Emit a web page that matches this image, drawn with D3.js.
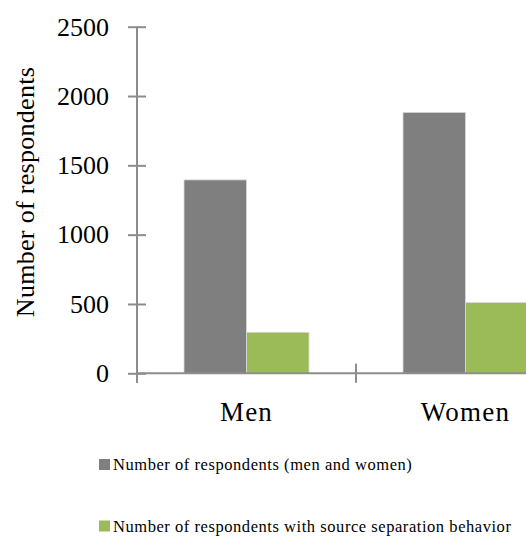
<!DOCTYPE html>
<html>
<head>
<meta charset="utf-8">
<script src="https://cdn.jsdelivr.net/npm/d3@7"></script>
<style>
  html, body { margin: 0; padding: 0; background: #fff; }
  svg { display: block; }
  text { font-family: "Liberation Serif", "Times New Roman", serif; fill: #000; }
</style>
</head>
<body>
<script>
// ---- data ----
const categories = ["Men", "Women"];
const seriesNames = ["Number of respondents (men and women)", "Number of respondents with source separation behavior"];
const seriesColors = ["#7f7f7f", "#9bbb59"];
const totalRespondents = [1395, 1882];
const separationRespondents = [296, 510];
const yTicks = [0, 500, 1000, 1500, 2000, 2500];

const W = 526, H = 536;
const axisX = 137, plotTop = 26.7, plotBottom = 373.3, plotRight = 575;

const svg = d3.select("body").append("svg").attr("width", W).attr("height", H);

const y = d3.scaleLinear().domain([0, 2500]).range([plotBottom, plotTop]);
const x0 = d3.scaleBand().domain(categories).range([axisX, plotRight]).paddingInner(0).paddingOuter(0);
const x1 = d3.scaleBand().domain([0, 1]).range([0, x0.bandwidth()]).paddingInner(0).paddingOuter(0.752);

const rows = categories.map((c, i) => ({ cat: c, vals: [totalRespondents[i], separationRespondents[i]] }));

// bars
const g = svg.append("g");
rows.forEach(r => {
  r.vals.forEach((v, s) => {
    g.append("rect")
      .attr("x", x0(r.cat) + x1(s))
      .attr("y", y(v))
      .attr("width", x1.bandwidth())
      .attr("height", y(0) - y(v))
      .attr("fill", seriesColors[s])
      .attr("stroke", "#d9d9d9")
      .attr("stroke-width", 0.8);
  });
});

const axisColor = "#8c8c8c";

// y axis
const yAxis = d3.axisLeft(y).tickValues(yTicks).tickFormat(d3.format("d"))
  .tickSizeInner(9).tickSizeOuter(0).tickPadding(19);
const ya = svg.append("g").attr("transform", `translate(${axisX},0)`).call(yAxis);
ya.select(".domain").remove();
ya.selectAll(".tick line").attr("x1", 9).attr("stroke", axisColor).attr("stroke-width", 2);
ya.selectAll(".tick text").attr("font-size", 26).attr("font-family", "Liberation Serif").attr("fill", "#000");
svg.append("line").attr("x1", axisX).attr("x2", axisX).attr("y1", plotTop).attr("y2", plotBottom + 9.5)
  .attr("stroke", axisColor).attr("stroke-width", 2);

// x axis
svg.append("line").attr("x1", axisX).attr("x2", plotRight).attr("y1", plotBottom).attr("y2", plotBottom)
  .attr("stroke", axisColor).attr("stroke-width", 2);
const boundaries = categories.map(c => x0(c)).concat([x0(categories[categories.length - 1]) + x0.bandwidth()]);
boundaries.forEach(bx => {
  svg.append("line").attr("x1", bx).attr("x2", bx).attr("y1", plotBottom - 9.5).attr("y2", plotBottom + 9.5)
    .attr("stroke", axisColor).attr("stroke-width", 2);
});
categories.forEach(c => {
  svg.append("text").attr("x", x0(c) + x0.bandwidth() / 2).attr("y", 420.7)
    .attr("text-anchor", "middle").attr("font-size", 27).attr("letter-spacing", 1.2).text(c);
});

// y title
svg.append("text")
  .attr("transform", `translate(33.5,192) rotate(-90)`)
  .attr("text-anchor", "middle").attr("font-size", 26).attr("letter-spacing", 0.3)
  .text("Number of respondents");

// legend
const legY = [470, 531.5];
seriesNames.forEach((n, i) => {
  svg.append("rect").attr("x", 99).attr("y", legY[i] - 11).attr("width", 11).attr("height", 11)
    .attr("fill", seriesColors[i]);
  svg.append("text").attr("x", 113).attr("y", legY[i]).attr("font-size", 16.5).attr("letter-spacing", 0.55).text(n);
});
</script>
</body>
</html>
